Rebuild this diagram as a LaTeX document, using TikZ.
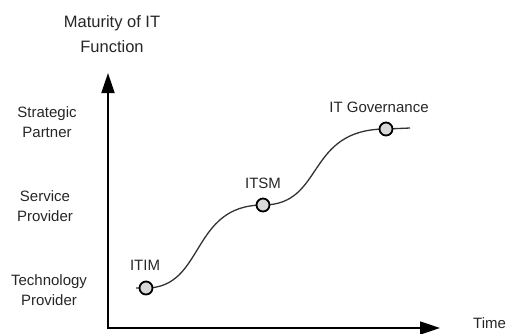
\documentclass[tikz,border=0pt]{standalone}
\usepackage{fontspec}
\setmainfont{Liberation Sans}
\usetikzlibrary{arrows.meta}
\begin{document}
\begin{tikzpicture}[x=1pt,y=-1pt,
  lbl/.style={text=black!85,align=center,font=\fontsize{15}{19.5}\selectfont,inner sep=0pt},
  ttl/.style={text=black!85,align=center,font=\fontsize{16.5}{25}\selectfont,inner sep=0pt},
  axis/.style={line width=1.8pt,-{Triangle[length=20pt,width=13pt]}},
  milestone/.style={circle,draw=black,line width=1.8pt,fill=black!15,minimum size=13pt,inner sep=0pt},
  curve/.style={line width=1.3pt,black!80}]
\useasboundingbox (0,0) rectangle (514,333);
% axes
\coordinate (o) at (108,328);
\coordinate (ytip) at (108,73);
\coordinate (xtip) at (440,328);
\draw[axis] (o) -- (ytip);
\draw[axis] ([xshift=-0.9pt]o) -- (xtip);
% labels
\node[ttl] (title) at (112,34.5) {Maturity of IT\\Function};
\node[lbl] (sp) at (47,122) {Strategic\\Partner};
\node[lbl] (svp) at (45,206) {Service\\Provider};
\node[lbl] (tp) at (49,290) {Technology\\Provider};
\node[lbl,anchor=west] (time) at (473,323.5) {Time};
% curve
\coordinate (c0) at (136,288);
\coordinate (c1) at (146,288);
\coordinate (c2) at (263,205);
\coordinate (c3) at (386,129);
\coordinate (c4) at (410,128);
\draw[curve] (c0) -- (c1) .. controls (205,288) and (190,205) .. (c2)
  .. controls (325,205) and (305,129) .. (c3) -- (c4);
\node[milestone] (itim) at (c1) {};
\node[milestone] (itsm) at (c2) {};
\node[milestone] (itgov) at (c3) {};
\node[lbl] (itimlbl) at (145,265) {ITIM};
\node[lbl] (itsmlbl) at (263,183) {ITSM};
\node[lbl] (itgovlbl) at (379,107) {IT Governance};
\end{tikzpicture}
\end{document}
